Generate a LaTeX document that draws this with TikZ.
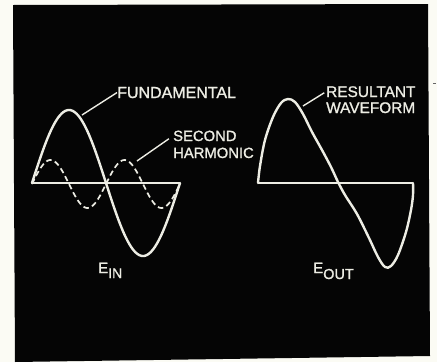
\documentclass[tikz,border=0pt]{standalone}
\usepackage{fontspec}
\setmainfont[FakeBold=1.2]{Liberation Sans}
\definecolor{paper}{HTML}{FBFBF4}
\definecolor{screen}{HTML}{050505}
\definecolor{ink}{HTML}{EDEDE4}
\begin{document}
\begin{tikzpicture}[x=1pt,y=-1pt,
  wave/.style={ink,line width=2.4pt,line join=round,line cap=round},
  axisline/.style={ink,line width=1.8pt},
  harm/.style={ink,line width=1.7pt,dash pattern=on 5.5pt off 3.5pt},
  leader/.style={ink,line width=1.4pt},
  lbl/.style={ink,inner sep=0pt,anchor=base west}]
\useasboundingbox (0,0) rectangle (437,362);
\fill[paper] (0,0) rectangle (437,362);
\fill[screen] (13,5) -- (428,4) -- (430,356) -- (15,362) -- cycle;
\draw[black!60,line width=0.8pt] (433,83) -- (436,83);
% left: input waveforms
\draw[axisline] (32,183) -- (180,183);
\draw[wave] plot[domain=0:148,samples=120] ({32+\x},{183-73*sin(\x/148*360)});
\draw[harm] plot[domain=0:148,samples=120] ({32+\x},{184-24*sin(\x/74*360)});
% right: output waveform
\draw[axisline] (258,183) -- (413,183);
\draw[wave] plot[smooth,tension=0.55] coordinates {
  (258,183) (260,166) (265,140) (273,117) (281,103) (288,99) (295,102)
  (303,114) (312,132) (322,150) (331,167) (338,182) (345,195) (357,214)
  (369,238) (378,257) (385,267) (391,266) (398,255) (406,232) (411,210)
  (413,195) (413,183)};
% labels
\node[lbl,font=\fontsize{16}{16}\selectfont] (fund) at (117,98) {FUNDAMENTAL};
\node[lbl,font=\fontsize{14.8}{15}\selectfont] (second) at (173,141) {SECOND};
\node[lbl,font=\fontsize{14.8}{15}\selectfont] (harmonic) at (173,158) {HARMONIC};
\node[lbl,font=\fontsize{15.4}{15}\selectfont] (result) at (326,97) {RESULTANT};
\node[lbl,font=\fontsize{15.4}{15}\selectfont] (wavef) at (326,113) {WAVEFORM};
\node[lbl,font=\fontsize{15}{15}\selectfont] (ein) at (98,273) {E\raisebox{-5pt}{\fontsize{14}{14}\selectfont IN}};
\node[lbl,font=\fontsize{15}{15}\selectfont] (eout) at (313,273) {E\raisebox{-6pt}{\fontsize{14.5}{14}\selectfont OUT}};
% leader lines
\coordinate (fundtip) at (82,115);
\coordinate (harmtip) at (137,161);
\coordinate (restip) at (303,106);
\draw[leader] (fund.west) -- (fundtip);
\draw[leader,shorten <=5pt] (second.west) -- (harmtip);
\draw[leader,shorten <=2pt] (result.west) -- (restip);
\end{tikzpicture}
\end{document}
